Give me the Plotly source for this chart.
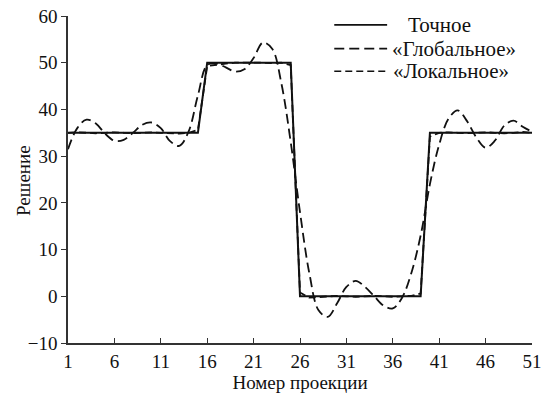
import plotly.graph_objects as go

# --- data ---
x_proj = list(range(1, 52))

exact = [35]*15 + [50]*10 + [0]*14 + [35]*12

global_sol = [31.5, 36.0, 37.8, 37.0, 34.8, 33.3, 33.5, 35.0, 36.7, 37.2,
              36.0, 33.2, 32.2, 35.3, 43.0, 49.5, 49.8, 49.0, 48.1, 48.6,
              51.0, 54.3, 53.0, 45.5, 33.0, 18.0, 5.0, -3.0, -4.4, -1.5,
              2.0, 3.3, 2.0, 0.0, -2.0, -2.6, -0.3, 5.0, 13.0, 24.0,
              32.5, 38.0, 39.8, 37.5, 34.0, 31.8, 33.3, 36.5, 37.6, 36.3,
              35.2]

local_sol = [35.0, 35.1, 35.0, 34.9, 35.0, 35.1, 35.0, 34.9, 35.0, 35.1,
             35.0, 34.9, 34.8, 35.0, 35.6, 49.3, 49.6, 49.8, 50.0, 50.0,
             50.1, 50.0, 49.9, 50.0, 49.5, 0.8, -0.3, -0.2, 0.0, 0.1,
             0.0, -0.1, 0.0, 0.1, 0.0, -0.1, 0.0, 0.1, 0.6, 34.2,
             35.0, 35.1, 35.0, 34.9, 35.0, 35.1, 35.0, 34.9, 35.0, 35.2,
             35.0]

x_ticks = [1, 6, 11, 16, 21, 26, 31, 36, 41, 46, 51]
y_ticks = [-10, 0, 10, 20, 30, 40, 50, 60]

names = ["Точное", "«Глобальное»", "«Локальное»"]
x_title = "Номер проекции"
y_title = "Решение"

FONT = "Liberation Serif"
INK = "#111"

fig = go.Figure()
fig.add_trace(go.Scatter(x=x_proj, y=global_sol, mode="lines", name=names[1],
                         line=dict(color=INK, width=1.8, dash="10px,5px", shape="spline"),
                         showlegend=False))
fig.add_trace(go.Scatter(x=x_proj, y=local_sol, mode="lines", name=names[2],
                         line=dict(color=INK, width=1.8, dash="7px,4px"),
                         showlegend=False))
fig.add_trace(go.Scatter(x=x_proj, y=exact, mode="lines", name=names[0],
                         line=dict(color=INK, width=2), showlegend=False))

# manual legend (paper coordinates)
L, R, T, B = 68, 542, 14, 345
W, H = R - L, B - T
def px(xp):
    return (xp - L) / W
def py(yp):
    return (B - yp) / H

leg = [(names[0], 23, "solid", 413), (names[1], 47, "10px,5px", 397), (names[2], 70, "7px,4px", 398)]
for name, yc, dash, tx in leg:
    fig.add_shape(type="line", xref="paper", yref="paper",
                  x0=px(340), x1=px(394), y0=py(yc), y1=py(yc),
                  line=dict(color=INK, width=1.6, dash=dash))
    fig.add_annotation(xref="paper", yref="paper", x=px(tx), y=py(yc),
                       text=name, showarrow=False, xanchor="left", yanchor="middle",
                       font=dict(family=FONT, size=21, color=INK))

# y-axis title as rotated text
fig.add_annotation(xref="paper", yref="paper", x=px(23), y=py(180),
                   text=y_title, showarrow=False, textangle=-90,
                   xanchor="center", yanchor="middle",
                   font=dict(family=FONT, size=19, color=INK))

fig.update_layout(
    width=548, height=393,
    margin=dict(l=L, r=548 - R, t=T, b=393 - B),
    paper_bgcolor="white", plot_bgcolor="white",
    font=dict(family=FONT, size=19, color=INK),
)
fig.update_xaxes(range=[1, 51], tickvals=x_ticks, ticks="inside", ticklen=5,
                 tickcolor="#333", showline=True, linecolor="#333", linewidth=1.5,
                 showgrid=False, zeroline=False, ticklabeloverflow="allow",
                 title=dict(text=x_title, font=dict(family=FONT, size=19), standoff=2),
                 tickfont=dict(family=FONT, size=19))
fig.update_yaxes(range=[-10, 60], tickvals=y_ticks, ticks="outside", ticklen=5,
                 tickcolor="#333", showline=True, linecolor="#333", linewidth=1.5,
                 showgrid=False, zeroline=False,
                 tickfont=dict(family=FONT, size=19))

fig.write_html("out.html")
